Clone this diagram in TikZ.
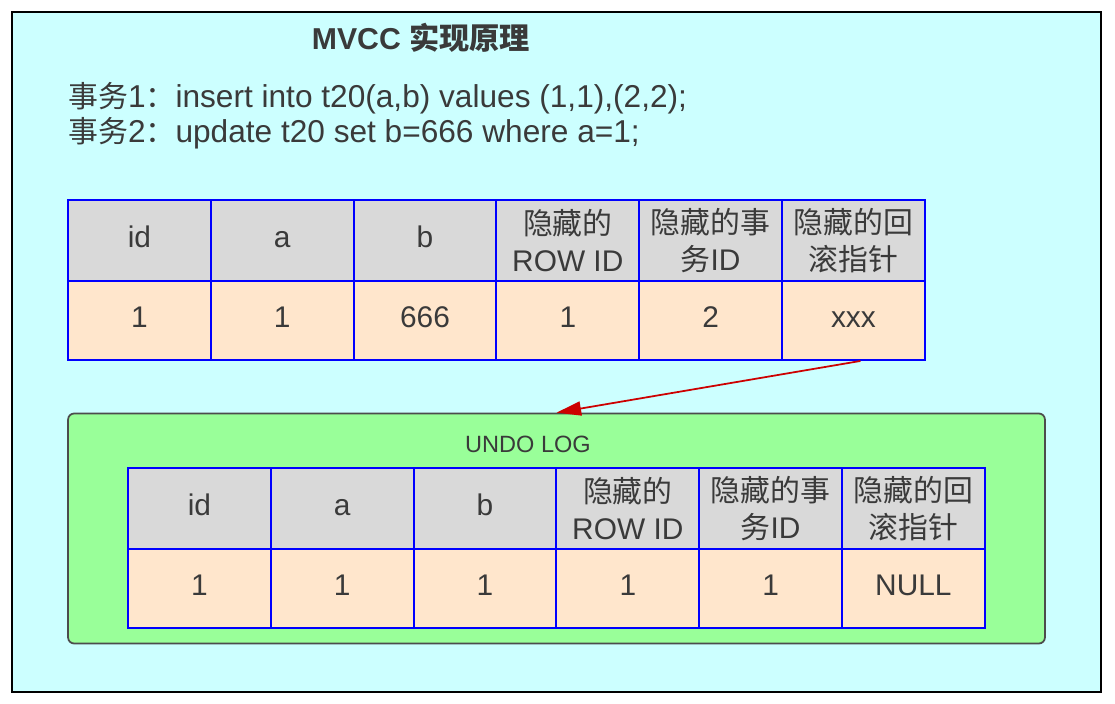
\documentclass[tikz,border=0pt]{standalone}
\usepackage{fontspec}
\setmainfont{Liberation Sans}
\newfontfamily\cjk{Noto Sans CJK SC}
\usetikzlibrary{positioning,arrows.meta}

\definecolor{bgcyan}{HTML}{CCFFFF}
\definecolor{headgray}{HTML}{D9D9D9}
\definecolor{datapeach}{HTML}{FFE6CC}
\definecolor{undogreen}{HTML}{99FF99}
\definecolor{txtgray}{HTML}{3A3A3A}
\definecolor{arrowred}{HTML}{CC0000}

% chinese words inside the statement lines
\newcommand{\zh}[1]{{\cjk\fontsize{17}{22}\selectfont #1}}

% one table: #1 name prefix, #2 left x, #3 top y, #4 data values
\newcommand{\rowtable}[4]{%
  \foreach \t [count=\i] in {id,a,b,{{\cjk 隐藏的}\\ROW ID},{{\cjk 隐藏的事}\\{\cjk 务}ID},{{\cjk 隐藏的回}\\{\cjk 滚指针}}}
    \node[headcell] (#1h\i) at ({#2+(\i-0.5)*142.8},{#3+40.5}) {\strut\t};
  \foreach \t [count=\i] in {#4}
    \node[datacell] (#1d\i) at ({#2+(\i-0.5)*142.8},{#3+120.5}) {\strut\t};
}

\begin{document}
\begin{tikzpicture}[x=0.02cm,y=-0.02cm,
    cell/.style={draw=blue,line width=1.1pt,minimum width=2.856cm,
      inner sep=0pt,align=center,text=txtgray,
      font=\fontsize{17}{21}\selectfont},
    headcell/.style={cell,fill=headgray,minimum height=1.62cm},
    datacell/.style={cell,fill=datapeach,minimum height=1.58cm},
    txt/.style={text=txtgray,inner sep=0pt,font=\fontsize{18}{22}\selectfont}]
  \fill[white] (0,0) rectangle (1115,703);
  \useasboundingbox (0,0) rectangle (1115,703);
  % 背景
  \draw[line width=1.1pt,fill=bgcyan] (12,12) rectangle (1101,692);
  % 标题和语句
  \node[txt,font=\fontsize{17.2}{21}\selectfont\bfseries] (title) at (421,38) {MVCC {\cjk\bfseries 实现原理}};
  \node[txt,anchor=west] (q1) at (68,98) {\zh{事务}1\zh{：}insert into t20(a,b) values (1,1),(2,2);};
  \node[txt,anchor=west] (q2) at (68,133) {\zh{事务}2\zh{：}update t20 set b=666 where a=1;};
  % 当前行
  \rowtable{new}{68}{200}{1,1,666,1,2,xxx}
  % undo log
  \node[draw=black!70,line width=1pt,fill=undogreen,rounded corners=3.4pt,
    minimum width=19.54cm,minimum height=4.6cm] (undo) at (556.5,528.5) {};
  \node[txt,font=\fontsize{13.4}{16}\selectfont] (undolabel) at (528,444) {UNDO LOG};
  \rowtable{old}{128}{468}{1,1,1,1,1,NULL}
  % 回滚指针
  \draw[arrowred,line width=1pt,-{Triangle[length=14pt,width=8pt]}]
    ([xshift=0.14cm]newd6.south) -- (undo.north);
\end{tikzpicture}
\end{document}
